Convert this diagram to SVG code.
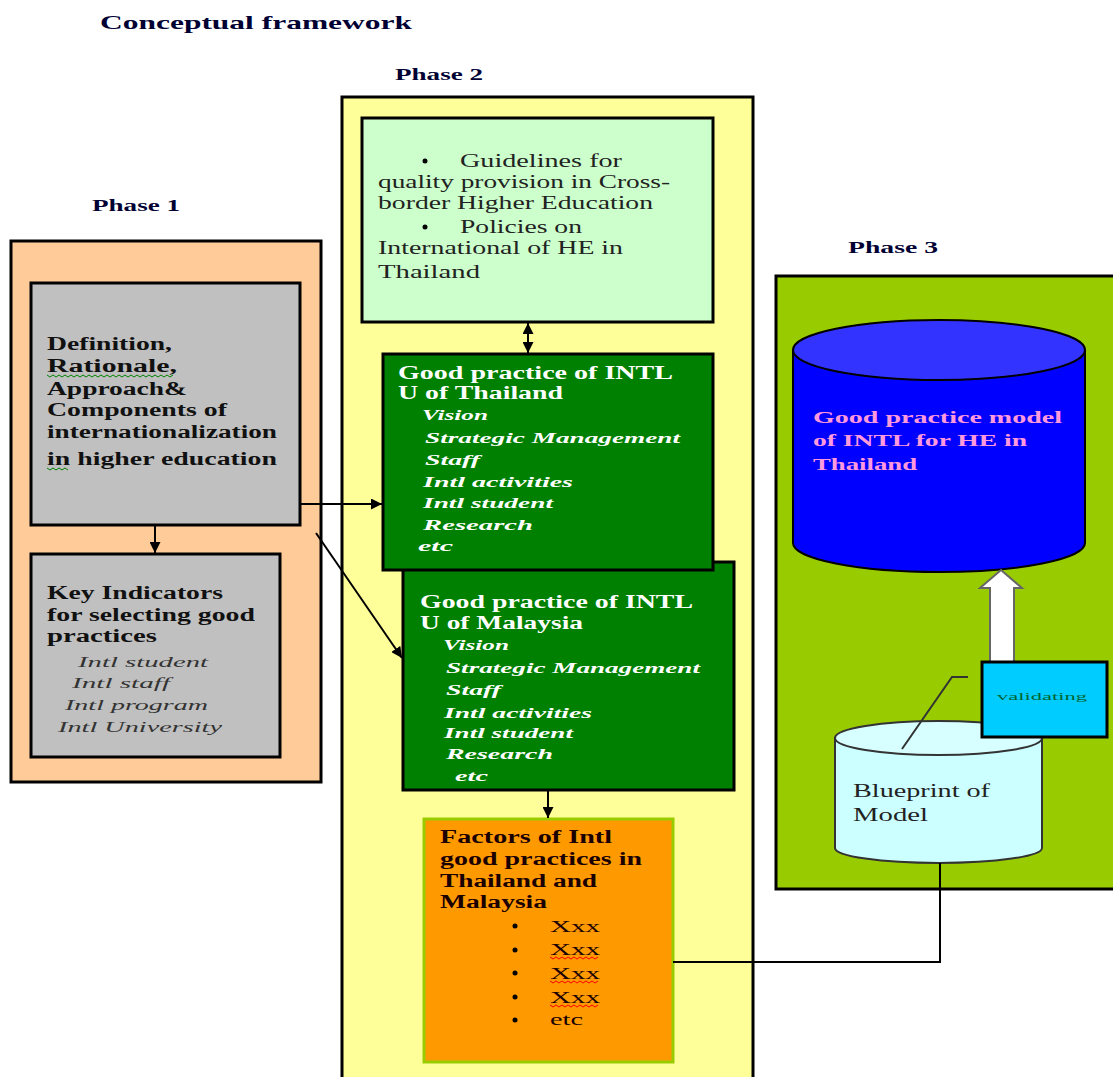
<svg xmlns="http://www.w3.org/2000/svg" width="1113" height="1077" viewBox="0 0 1113 1077">
<style>
text { font-family: "Liberation Serif", "Times New Roman", serif; }
.ttl { font-weight: bold; font-size: 19px; fill: #000033; }
.ph { font-weight: bold; font-size: 16px; fill: #000033; }
.b { font-weight: bold; font-size: 18px; fill: #111; }
.r { font-size: 18px; fill: #222; }
.w { font-weight: bold; font-size: 18px; fill: #ffffff; }
.wi { font-weight: bold; font-style: italic; font-size: 15px; fill: #ffffff; }
.gi { font-style: italic; font-size: 15px; fill: #333; }
.fb { font-weight: bold; font-size: 18px; fill: #1a0000; }
.fr { font-size: 16px; fill: #1a0000; }
.pk { font-weight: bold; font-size: 17px; fill: #ff99dd; }
.box { stroke: #000; stroke-width: 3; }
.con { stroke: #000; stroke-width: 2; fill: none; }
.sq { fill: none; stroke-width: 1; }
</style>
<defs>
<marker id="ah" viewBox="0 0 10 10" refX="10" refY="5" markerWidth="11" markerHeight="11" orient="auto-start-reverse" markerUnits="userSpaceOnUse">
<path d="M0,0 L10,5 L0,10 z" fill="#000"/>
</marker>
</defs>
<rect width="1113" height="1077" fill="#fff"/>
<text class="ttl" x="100" y="29" textLength="312" lengthAdjust="spacingAndGlyphs">Conceptual framework</text>
<text class="ph" x="395" y="80" textLength="88" lengthAdjust="spacingAndGlyphs">Phase 2</text>
<text class="ph" x="92" y="211" textLength="88" lengthAdjust="spacingAndGlyphs">Phase 1</text>
<text class="ph" x="848" y="253" textLength="90" lengthAdjust="spacingAndGlyphs">Phase 3</text>

<g id="phase1">
<rect class="box" x="11" y="241" width="310" height="541" fill="#FFCC99"/>
</g>
<g id="phase2">
<rect class="box" x="342" y="97" width="411" height="1000" fill="#FFFF99"/>
</g>
<g id="phase3">
<rect class="box" x="776" y="276" width="360" height="613" fill="#99CC00"/>
</g>

<g id="definition">
<rect class="box" x="31" y="283" width="269" height="242" fill="#C0C0C0"/>
<text class="b" x="47" y="350" textLength="125" lengthAdjust="spacingAndGlyphs">Definition,</text>
<text class="b" x="47" y="372" textLength="130" lengthAdjust="spacingAndGlyphs">Rationale,</text>
<path class="sq" stroke="#008000" d="M47,375 l3,2 l3,-2 l3,2 l3,-2 l3,2 l3,-2 l3,2 l3,-2 l3,2 l3,-2 l3,2 l3,-2 l3,2 l3,-2 l3,2 l3,-2 l3,2 l3,-2 l3,2 l3,-2 l3,2 l3,-2 l3,2 l3,-2 l3,2 l3,-2 l3,2 l3,-2 l3,2 l3,-2 l3,2 l3,-2 l3,2 l3,-2 l3,2 l3,-2 l3,2 l3,-2 l3,2 l3,-2 l3,2 l3,-2"/>
<text class="b" x="47" y="395" textLength="140" lengthAdjust="spacingAndGlyphs">Approach&amp;</text>
<text class="b" x="47" y="416" textLength="180" lengthAdjust="spacingAndGlyphs">Components of</text>
<text class="b" x="47" y="438" textLength="230" lengthAdjust="spacingAndGlyphs">internationalization</text>
<text class="b" x="47" y="465" textLength="230" lengthAdjust="spacingAndGlyphs">in higher education</text>
<path class="sq" stroke="#008000" d="M47,468 l3,2 l3,-2 l3,2 l3,-2 l3,2 l3,-2 l3,2"/>
</g>

<g id="indicators">
<rect class="box" x="31" y="554" width="249" height="203" fill="#C0C0C0"/>
<text class="b" x="47" y="599" textLength="176" lengthAdjust="spacingAndGlyphs">Key Indicators</text>
<text class="b" x="47" y="621" textLength="208" lengthAdjust="spacingAndGlyphs">for selecting good</text>
<text class="b" x="47" y="642" textLength="110" lengthAdjust="spacingAndGlyphs">practices</text>
<text class="gi" x="78" y="667" textLength="130" lengthAdjust="spacingAndGlyphs">Intl student</text>
<text class="gi" x="72" y="688" textLength="98" lengthAdjust="spacingAndGlyphs">Intl staff</text>
<text class="gi" x="65" y="710" textLength="143" lengthAdjust="spacingAndGlyphs">Intl program</text>
<text class="gi" x="58" y="732" textLength="164" lengthAdjust="spacingAndGlyphs">Intl University</text>
</g>

<g id="guidelines">
<rect class="box" x="362" y="118" width="351" height="204" fill="#CCFFCC"/>
<circle cx="425" cy="161" r="2.5" fill="#000"/>
<text class="r" x="460" y="167" textLength="162" lengthAdjust="spacingAndGlyphs">Guidelines for</text>
<text class="r" x="378" y="188" textLength="292" lengthAdjust="spacingAndGlyphs">quality provision in Cross-</text>
<text class="r" x="378" y="209" textLength="275" lengthAdjust="spacingAndGlyphs">border Higher Education</text>
<circle cx="425" cy="227" r="2.5" fill="#000"/>
<text class="r" x="460" y="233" textLength="122" lengthAdjust="spacingAndGlyphs">Policies on</text>
<text class="r" x="378" y="254" textLength="245" lengthAdjust="spacingAndGlyphs">International of HE in</text>
<text class="r" x="378" y="278" textLength="102" lengthAdjust="spacingAndGlyphs">Thailand</text>
</g>

<g id="malaysia">
<rect class="box" x="403" y="562" width="331" height="228" fill="#008000"/>
<text class="w" x="420" y="608" textLength="273" lengthAdjust="spacingAndGlyphs">Good practice of INTL</text>
<text class="w" x="420" y="629" textLength="163" lengthAdjust="spacingAndGlyphs">U of Malaysia</text>
<text class="wi" x="443" y="650" textLength="66" lengthAdjust="spacingAndGlyphs">Vision</text>
<text class="wi" x="446" y="673" textLength="254" lengthAdjust="spacingAndGlyphs">Strategic Management</text>
<text class="wi" x="446" y="695" textLength="55" lengthAdjust="spacingAndGlyphs">Staff</text>
<text class="wi" x="444" y="718" textLength="148" lengthAdjust="spacingAndGlyphs">Intl activities</text>
<text class="wi" x="444" y="738" textLength="129" lengthAdjust="spacingAndGlyphs">Intl student</text>
<text class="wi" x="446" y="759" textLength="107" lengthAdjust="spacingAndGlyphs">Research</text>
<text class="wi" x="455" y="781" textLength="33" lengthAdjust="spacingAndGlyphs">etc</text>
</g>

<g id="thailand">
<rect class="box" x="383" y="354" width="330" height="216" fill="#008000"/>
<text class="w" x="398" y="379" textLength="275" lengthAdjust="spacingAndGlyphs">Good practice of INTL</text>
<text class="w" x="398" y="399" textLength="165" lengthAdjust="spacingAndGlyphs">U of Thailand</text>
<text class="wi" x="422" y="420" textLength="66" lengthAdjust="spacingAndGlyphs">Vision</text>
<text class="wi" x="425" y="443" textLength="255" lengthAdjust="spacingAndGlyphs">Strategic Management</text>
<text class="wi" x="425" y="465" textLength="55" lengthAdjust="spacingAndGlyphs">Staff</text>
<text class="wi" x="423" y="487" textLength="150" lengthAdjust="spacingAndGlyphs">Intl activities</text>
<text class="wi" x="423" y="508" textLength="130" lengthAdjust="spacingAndGlyphs">Intl student</text>
<text class="wi" x="423" y="530" textLength="110" lengthAdjust="spacingAndGlyphs">Research</text>
<text class="wi" x="418" y="551" textLength="35" lengthAdjust="spacingAndGlyphs">etc</text>
</g>

<g id="factors">
<rect x="424" y="819" width="249" height="243" fill="#FF9900" stroke="#99CC00" stroke-width="3"/>
<text class="fb" x="440" y="843" textLength="172" lengthAdjust="spacingAndGlyphs">Factors of Intl</text>
<text class="fb" x="440" y="865" textLength="202" lengthAdjust="spacingAndGlyphs">good practices in</text>
<text class="fb" x="440" y="887" textLength="157" lengthAdjust="spacingAndGlyphs">Thailand and</text>
<text class="fb" x="440" y="908" textLength="107" lengthAdjust="spacingAndGlyphs">Malaysia</text>
<circle cx="515" cy="926" r="2.5" fill="#000"/>
<text class="fr" x="550" y="932" textLength="50" lengthAdjust="spacingAndGlyphs">Xxx</text>
<circle cx="515" cy="950" r="2.5" fill="#000"/>
<text class="fr" x="550" y="955" textLength="50" lengthAdjust="spacingAndGlyphs">Xxx</text>
<path class="sq" stroke="#ff0000" d="M550,957 l3,2 l3,-2 l3,2 l3,-2 l3,2 l3,-2 l3,2 l3,-2 l3,2 l3,-2 l3,2 l3,-2 l3,2 l3,-2 l3,2 l3,-2"/>
<circle cx="515" cy="973" r="2.5" fill="#000"/>
<text class="fr" x="550" y="979" textLength="50" lengthAdjust="spacingAndGlyphs">Xxx</text>
<path class="sq" stroke="#ff0000" d="M550,981 l3,2 l3,-2 l3,2 l3,-2 l3,2 l3,-2 l3,2 l3,-2 l3,2 l3,-2 l3,2 l3,-2 l3,2 l3,-2 l3,2 l3,-2"/>
<circle cx="515" cy="997" r="2.5" fill="#000"/>
<text class="fr" x="550" y="1003" textLength="50" lengthAdjust="spacingAndGlyphs">Xxx</text>
<path class="sq" stroke="#ff0000" d="M550,1005 l3,2 l3,-2 l3,2 l3,-2 l3,2 l3,-2 l3,2 l3,-2 l3,2 l3,-2 l3,2 l3,-2 l3,2 l3,-2 l3,2 l3,-2"/>
<circle cx="515" cy="1020" r="2.5" fill="#000"/>
<text class="fr" x="550" y="1025" textLength="33" lengthAdjust="spacingAndGlyphs">etc</text>
</g>

<g id="model">
<path d="M793,350 L793,543 A146,29 0 0,0 1085,543 L1085,350 Z" fill="#0000FF" stroke="#000" stroke-width="2"/>
<ellipse cx="939" cy="350" rx="146" ry="30" fill="#3333FF" stroke="#000" stroke-width="2"/>
<text class="pk" x="813" y="423" textLength="249" lengthAdjust="spacingAndGlyphs">Good practice model</text>
<text class="pk" x="813" y="446" textLength="214" lengthAdjust="spacingAndGlyphs">of INTL for HE in</text>
<text class="pk" x="813" y="470" textLength="104" lengthAdjust="spacingAndGlyphs">Thailand</text>
</g>

<g id="blueprint">
<path d="M835,738 L835,848 A103.5,15 0 0,0 1042,848 L1042,738 Z" fill="#CCFFFF" stroke="#333" stroke-width="2"/>
<ellipse cx="938.5" cy="738" rx="103.5" ry="17" fill="#D8FFFF" stroke="#333" stroke-width="2"/>
<text class="r" x="853" y="797" textLength="137" lengthAdjust="spacingAndGlyphs">Blueprint of</text>
<text class="r" x="853" y="821" textLength="75" lengthAdjust="spacingAndGlyphs">Model</text>
</g>

<g id="validation-arrow">
<path d="M990,662 L990,588 L980,588 L1001,570 L1022,588 L1014,588 L1014,662" fill="#ffffff" stroke="#666" stroke-width="2"/>
</g>

<g id="validating">
<rect x="982" y="662" width="125" height="75" fill="#00CCFF" stroke="#000" stroke-width="3"/>
<text x="997" y="700" font-size="11" fill="#006633" textLength="90" lengthAdjust="spacingAndGlyphs" font-family="Liberation Sans, Arial, sans-serif">validating</text>
<path d="M902,749 L952,677 L968,677" fill="none" stroke="#333" stroke-width="2"/>
</g>

<g id="connectors">
<line class="con" x1="155" y1="525" x2="155" y2="553" marker-end="url(#ah)"/>
<line class="con" x1="300" y1="504" x2="382" y2="504" marker-end="url(#ah)"/>
<line class="con" x1="316" y1="533" x2="402" y2="658" marker-end="url(#ah)"/>
<line class="con" x1="528" y1="323" x2="528" y2="353" marker-start="url(#ah)" marker-end="url(#ah)"/>
<line class="con" x1="548" y1="791" x2="548" y2="818" marker-end="url(#ah)"/>
<polyline class="con" points="673,962 940,962 940,863"/>
</g>
</svg>
